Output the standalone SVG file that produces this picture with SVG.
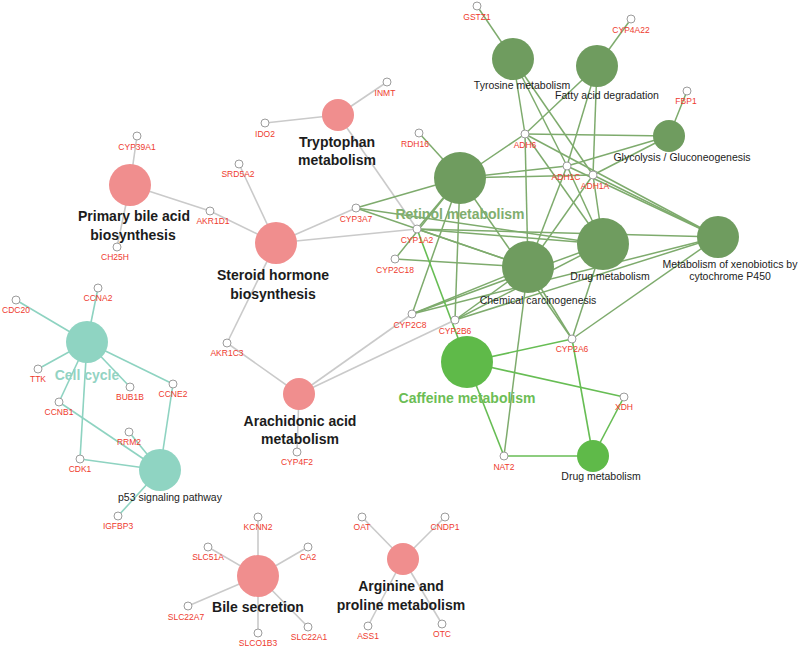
<svg xmlns="http://www.w3.org/2000/svg" width="800" height="649" viewBox="0 0 800 649">
<style>
.bg{fill:#ffffff}
.eg{stroke:#cacaca;stroke-width:1.6;fill:none}
.ed{stroke:#7eab6d;stroke-width:1.5;fill:none}
.eb{stroke:#67bd54;stroke-width:1.6;fill:none}
.et{stroke:#8ed3c1;stroke-width:1.6;fill:none}
.tdg{fill:#6f9c5f}
.tbg{fill:#5fba49}
.tpk{fill:#f08e8e}
.ttl{fill:#8fd4c2}
.gn{fill:#ffffff;stroke:#9c9c9c;stroke-width:1}
.gl{font-family:"Liberation Sans",Arial,sans-serif;font-size:8.5px;fill:#ee3a2e;text-anchor:middle}
.tl{font-family:"Liberation Sans",Arial,sans-serif;font-size:10.5px;fill:#1c1c1c;text-anchor:middle}
.bl{font-family:"Liberation Sans",Arial,sans-serif;font-size:14px;font-weight:bold;fill:#1c1c1c;text-anchor:middle}
.rl{font-family:"Liberation Sans",Arial,sans-serif;font-size:14px;font-weight:bold;fill:#80ae6e;text-anchor:middle}
.cl{font-family:"Liberation Sans",Arial,sans-serif;font-size:14px;font-weight:bold;fill:#6cbd55;text-anchor:middle}
.ccl{font-family:"Liberation Sans",Arial,sans-serif;font-size:14px;font-weight:bold;fill:#93d3c3;text-anchor:middle}
</style>
<rect class="bg" x="0" y="0" width="800" height="649"/>
<g id="connectors">
<!-- gray -->
<line class="eg" x1="338" y1="115" x2="387" y2="82"/>
<line class="eg" x1="338" y1="115" x2="265" y2="123"/>
<line class="eg" x1="338" y1="115" x2="417" y2="229"/>
<line class="eg" x1="130" y1="185" x2="137" y2="136"/>
<line class="eg" x1="130" y1="185" x2="117" y2="247"/>
<line class="eg" x1="130" y1="185" x2="210" y2="211"/>
<line class="eg" x1="276" y1="243" x2="210" y2="211"/>
<line class="eg" x1="276" y1="243" x2="239" y2="164"/>
<line class="eg" x1="276" y1="243" x2="356" y2="208"/>
<line class="eg" x1="276" y1="243" x2="417" y2="229"/>
<line class="eg" x1="276" y1="243" x2="227" y2="343"/>
<line class="eg" x1="299" y1="394" x2="227" y2="343"/>
<line class="eg" x1="299" y1="394" x2="412" y2="314"/>
<line class="eg" x1="299" y1="394" x2="455" y2="320"/>
<line class="eg" x1="299" y1="394" x2="297" y2="452"/>
<line class="eg" x1="258" y1="576" x2="258" y2="517"/>
<line class="eg" x1="258" y1="576" x2="208" y2="547"/>
<line class="eg" x1="258" y1="576" x2="308" y2="547"/>
<line class="eg" x1="258" y1="576" x2="188" y2="606"/>
<line class="eg" x1="258" y1="576" x2="258" y2="633"/>
<line class="eg" x1="258" y1="576" x2="308" y2="627"/>
<line class="eg" x1="403" y1="559" x2="362" y2="517"/>
<line class="eg" x1="403" y1="559" x2="445" y2="517"/>
<line class="eg" x1="403" y1="559" x2="368" y2="626"/>
<line class="eg" x1="403" y1="559" x2="442" y2="624"/>
<!-- dark green: Retinol -->
<line class="ed" x1="460" y1="178" x2="419" y2="133"/>
<line class="ed" x1="460" y1="178" x2="525" y2="134"/>
<line class="ed" x1="460" y1="178" x2="567" y2="166"/>
<line class="ed" x1="460" y1="178" x2="593" y2="175"/>
<line class="ed" x1="460" y1="178" x2="356" y2="208"/>
<line class="ed" x1="460" y1="178" x2="417" y2="229"/>
<line class="ed" x1="460" y1="178" x2="395" y2="259"/>
<line class="ed" x1="460" y1="178" x2="412" y2="314"/>
<line class="ed" x1="460" y1="178" x2="455" y2="320"/>
<line class="ed" x1="460" y1="178" x2="572" y2="339"/>
<!-- Tyrosine -->
<line class="ed" x1="513" y1="59" x2="477" y2="6"/>
<line class="ed" x1="513" y1="59" x2="525" y2="134"/>
<line class="ed" x1="513" y1="59" x2="567" y2="166"/>
<line class="ed" x1="513" y1="59" x2="593" y2="175"/>
<!-- Fatty acid -->
<line class="ed" x1="597" y1="66" x2="631" y2="19"/>
<line class="ed" x1="597" y1="66" x2="525" y2="134"/>
<line class="ed" x1="597" y1="66" x2="567" y2="166"/>
<line class="ed" x1="597" y1="66" x2="593" y2="175"/>
<!-- Glycolysis -->
<line class="ed" x1="669" y1="136" x2="687" y2="91"/>
<line class="ed" x1="669" y1="136" x2="525" y2="134"/>
<line class="ed" x1="669" y1="136" x2="567" y2="166"/>
<line class="ed" x1="669" y1="136" x2="593" y2="175"/>
<!-- Chemical carcinogenesis -->
<line class="ed" x1="528" y1="267" x2="525" y2="134"/>
<line class="ed" x1="528" y1="267" x2="567" y2="166"/>
<line class="ed" x1="528" y1="267" x2="593" y2="175"/>
<line class="ed" x1="528" y1="267" x2="417" y2="229"/>
<line class="ed" x1="528" y1="267" x2="395" y2="259"/>
<line class="ed" x1="528" y1="267" x2="356" y2="208"/>
<line class="ed" x1="528" y1="267" x2="412" y2="314"/>
<line class="ed" x1="528" y1="267" x2="455" y2="320"/>
<line class="ed" x1="528" y1="267" x2="572" y2="339"/>
<line class="ed" x1="528" y1="267" x2="504" y2="456"/>
<!-- Drug metabolism (dark) -->
<line class="ed" x1="603" y1="244" x2="525" y2="134"/>
<line class="ed" x1="603" y1="244" x2="567" y2="166"/>
<line class="ed" x1="603" y1="244" x2="593" y2="175"/>
<line class="ed" x1="603" y1="244" x2="417" y2="229"/>
<line class="ed" x1="603" y1="244" x2="356" y2="208"/>
<line class="ed" x1="603" y1="244" x2="412" y2="314"/>
<line class="ed" x1="603" y1="244" x2="455" y2="320"/>
<line class="ed" x1="603" y1="244" x2="572" y2="339"/>
<!-- Xenobiotics -->
<line class="ed" x1="718" y1="237" x2="525" y2="134"/>
<line class="ed" x1="718" y1="237" x2="567" y2="166"/>
<line class="ed" x1="718" y1="237" x2="593" y2="175"/>
<line class="ed" x1="718" y1="237" x2="417" y2="229"/>
<line class="ed" x1="718" y1="237" x2="412" y2="314"/>
<line class="ed" x1="718" y1="237" x2="455" y2="320"/>
<line class="ed" x1="718" y1="237" x2="572" y2="339"/>
<!-- bright green -->
<line class="eb" x1="467" y1="362" x2="417" y2="229"/>
<line class="eb" x1="467" y1="362" x2="572" y2="339"/>
<line class="eb" x1="467" y1="362" x2="624" y2="397"/>
<line class="eb" x1="467" y1="362" x2="504" y2="456"/>
<line class="eb" x1="593" y1="456" x2="504" y2="456"/>
<line class="eb" x1="593" y1="456" x2="624" y2="397"/>
<line class="eb" x1="593" y1="456" x2="572" y2="339"/>
<!-- teal -->
<line class="et" x1="87" y1="342" x2="98" y2="288"/>
<line class="et" x1="87" y1="342" x2="16" y2="300"/>
<line class="et" x1="87" y1="342" x2="38" y2="369"/>
<line class="et" x1="87" y1="342" x2="130" y2="387"/>
<line class="et" x1="87" y1="342" x2="173" y2="384"/>
<line class="et" x1="87" y1="342" x2="59" y2="402"/>
<line class="et" x1="87" y1="342" x2="80" y2="459"/>
<line class="et" x1="160" y1="470" x2="173" y2="384"/>
<line class="et" x1="160" y1="470" x2="59" y2="402"/>
<line class="et" x1="160" y1="470" x2="129" y2="432"/>
<line class="et" x1="160" y1="470" x2="80" y2="459"/>
<line class="et" x1="160" y1="470" x2="118" y2="516"/>
</g>
<!-- term nodes -->
<g id="tyrosine"><circle class="tdg" cx="513" cy="59" r="21"/><text class="tl" x="522" y="89">Tyrosine metabolism</text></g>
<g id="fatty"><circle class="tdg" cx="597" cy="66" r="21"/><text class="tl" x="607" y="99">Fatty acid degradation</text></g>
<g id="glycolysis"><circle class="tdg" cx="669" cy="136" r="16"/><text class="tl" x="682" y="161">Glycolysis / Gluconeogenesis</text></g>
<g id="retinol"><circle class="tdg" cx="460" cy="178" r="26"/><text class="rl" x="460" y="219">Retinol metabolism</text></g>
<g id="chemcarc"><circle class="tdg" cx="528" cy="267" r="26"/><text class="tl" x="538" y="304">Chemical carcinogenesis</text></g>
<g id="drugdark"><circle class="tdg" cx="603" cy="244" r="26"/><text class="tl" x="610" y="280">Drug metabolism</text></g>
<g id="xeno"><circle class="tdg" cx="718" cy="237" r="21"/><text class="tl" x="730" y="268">Metabolism of xenobiotics by</text><text class="tl" x="730" y="280">cytochrome P450</text></g>
<g id="caffeine"><circle class="tbg" cx="467" cy="362" r="26"/><text class="cl" x="467" y="403">Caffeine metabolism</text></g>
<g id="drugbright"><circle class="tbg" cx="593" cy="456" r="16"/><text class="tl" x="601" y="480">Drug metabolism</text></g>
<g id="tryptophan"><circle class="tpk" cx="338" cy="115" r="16"/><text class="bl" x="337" y="147">Tryptophan</text><text class="bl" x="337" y="165">metabolism</text></g>
<g id="primarybile"><circle class="tpk" cx="130" cy="185" r="21"/><text class="bl" x="134" y="221">Primary bile acid</text><text class="bl" x="133" y="240">biosynthesis</text></g>
<g id="steroid"><circle class="tpk" cx="276" cy="243" r="21"/><text class="bl" x="273" y="280">Steroid hormone</text><text class="bl" x="273" y="299">biosynthesis</text></g>
<g id="arachidonic"><circle class="tpk" cx="299" cy="394" r="16"/><text class="bl" x="300" y="426">Arachidonic acid</text><text class="bl" x="300" y="444">metabolism</text></g>
<g id="cellcycle"><circle class="ttl" cx="87" cy="342" r="21"/><text class="ccl" x="87" y="380">Cell cycle</text></g>
<g id="p53"><circle class="ttl" cx="160" cy="470" r="21"/><text class="tl" x="170" y="501">p53 signaling pathway</text></g>
<g id="bilesec"><circle class="tpk" cx="258" cy="576" r="21"/><text class="bl" x="258" y="612">Bile secretion</text></g>
<g id="arginine"><circle class="tpk" cx="403" cy="559" r="16"/><text class="bl" x="401" y="591">Arginine and</text><text class="bl" x="401" y="610">proline metabolism</text></g>
<!-- gene nodes -->
<g id="GSTZ1"><circle class="gn" cx="477" cy="6" r="4"/><text class="gl" x="477" y="20">GSTZ1</text></g>
<g id="CYP4A22"><circle class="gn" cx="631" cy="19" r="4"/><text class="gl" x="631" y="33">CYP4A22</text></g>
<g id="FBP1"><circle class="gn" cx="687" cy="91" r="4"/><text class="gl" x="686" y="104">FBP1</text></g>
<g id="RDH16"><circle class="gn" cx="419" cy="133" r="4"/><text class="gl" x="415" y="147">RDH16</text></g>
<g id="ADH6"><circle class="gn" cx="525" cy="134" r="4"/><text class="gl" x="525" y="148">ADH6</text></g>
<g id="ADH1C"><circle class="gn" cx="567" cy="166" r="4"/><text class="gl" x="566" y="180">ADH1C</text></g>
<g id="ADH1A"><circle class="gn" cx="593" cy="175" r="4"/><text class="gl" x="595" y="189">ADH1A</text></g>
<g id="CYP1A2"><circle class="gn" cx="417" cy="229" r="4"/><text class="gl" x="417" y="243">CYP1A2</text></g>
<g id="CYP2C18"><circle class="gn" cx="395" cy="259" r="4"/><text class="gl" x="395" y="273">CYP2C18</text></g>
<g id="CYP3A7"><circle class="gn" cx="356" cy="208" r="4"/><text class="gl" x="356" y="222">CYP3A7</text></g>
<g id="CYP2C8"><circle class="gn" cx="412" cy="314" r="4"/><text class="gl" x="410" y="328">CYP2C8</text></g>
<g id="CYP2B6"><circle class="gn" cx="455" cy="320" r="4"/><text class="gl" x="455" y="334">CYP2B6</text></g>
<g id="CYP2A6"><circle class="gn" cx="572" cy="339" r="4"/><text class="gl" x="572" y="352">CYP2A6</text></g>
<g id="XDH"><circle class="gn" cx="624" cy="397" r="4"/><text class="gl" x="624" y="410">XDH</text></g>
<g id="NAT2"><circle class="gn" cx="504" cy="456" r="4"/><text class="gl" x="504" y="470">NAT2</text></g>
<g id="INMT"><circle class="gn" cx="387" cy="82" r="4"/><text class="gl" x="385" y="96">INMT</text></g>
<g id="IDO2"><circle class="gn" cx="265" cy="123" r="4"/><text class="gl" x="265" y="137">IDO2</text></g>
<g id="CYP39A1"><circle class="gn" cx="137" cy="136" r="4"/><text class="gl" x="137" y="150">CYP39A1</text></g>
<g id="SRD5A2"><circle class="gn" cx="239" cy="164" r="4"/><text class="gl" x="238" y="177">SRD5A2</text></g>
<g id="AKR1D1"><circle class="gn" cx="210" cy="211" r="4"/><text class="gl" x="213" y="224">AKR1D1</text></g>
<g id="CH25H"><circle class="gn" cx="117" cy="247" r="4"/><text class="gl" x="115" y="260">CH25H</text></g>
<g id="AKR1C3"><circle class="gn" cx="227" cy="343" r="4"/><text class="gl" x="227" y="356">AKR1C3</text></g>
<g id="CYP4F2"><circle class="gn" cx="297" cy="452" r="4"/><text class="gl" x="297" y="465">CYP4F2</text></g>
<g id="CCNA2"><circle class="gn" cx="98" cy="288" r="4"/><text class="gl" x="98" y="301">CCNA2</text></g>
<g id="CDC20"><circle class="gn" cx="16" cy="300" r="4"/><text class="gl" x="16" y="313">CDC20</text></g>
<g id="TTK"><circle class="gn" cx="38" cy="369" r="4"/><text class="gl" x="38" y="382">TTK</text></g>
<g id="BUB1B"><circle class="gn" cx="130" cy="387" r="4"/><text class="gl" x="130" y="400">BUB1B</text></g>
<g id="CCNE2"><circle class="gn" cx="173" cy="384" r="4"/><text class="gl" x="173" y="397">CCNE2</text></g>
<g id="CCNB1"><circle class="gn" cx="59" cy="402" r="4"/><text class="gl" x="59" y="415">CCNB1</text></g>
<g id="RRM2"><circle class="gn" cx="129" cy="432" r="4"/><text class="gl" x="129" y="445">RRM2</text></g>
<g id="CDK1"><circle class="gn" cx="80" cy="459" r="4"/><text class="gl" x="80" y="472">CDK1</text></g>
<g id="IGFBP3"><circle class="gn" cx="118" cy="516" r="4"/><text class="gl" x="118" y="529">IGFBP3</text></g>
<g id="KCNN2"><circle class="gn" cx="258" cy="517" r="4"/><text class="gl" x="258" y="530">KCNN2</text></g>
<g id="SLC51A"><circle class="gn" cx="208" cy="547" r="4"/><text class="gl" x="208" y="560">SLC51A</text></g>
<g id="CA2"><circle class="gn" cx="308" cy="547" r="4"/><text class="gl" x="308" y="560">CA2</text></g>
<g id="SLC22A7"><circle class="gn" cx="188" cy="606" r="4"/><text class="gl" x="186" y="620">SLC22A7</text></g>
<g id="SLCO1B3"><circle class="gn" cx="258" cy="633" r="4"/><text class="gl" x="258" y="646">SLCO1B3</text></g>
<g id="SLC22A1"><circle class="gn" cx="308" cy="627" r="4"/><text class="gl" x="309" y="640">SLC22A1</text></g>
<g id="OAT"><circle class="gn" cx="362" cy="517" r="4"/><text class="gl" x="362" y="530">OAT</text></g>
<g id="CNDP1"><circle class="gn" cx="445" cy="517" r="4"/><text class="gl" x="445" y="530">CNDP1</text></g>
<g id="ASS1"><circle class="gn" cx="368" cy="626" r="4"/><text class="gl" x="368" y="639">ASS1</text></g>
<g id="OTC"><circle class="gn" cx="442" cy="624" r="4"/><text class="gl" x="442" y="637">OTC</text></g>
</svg>
